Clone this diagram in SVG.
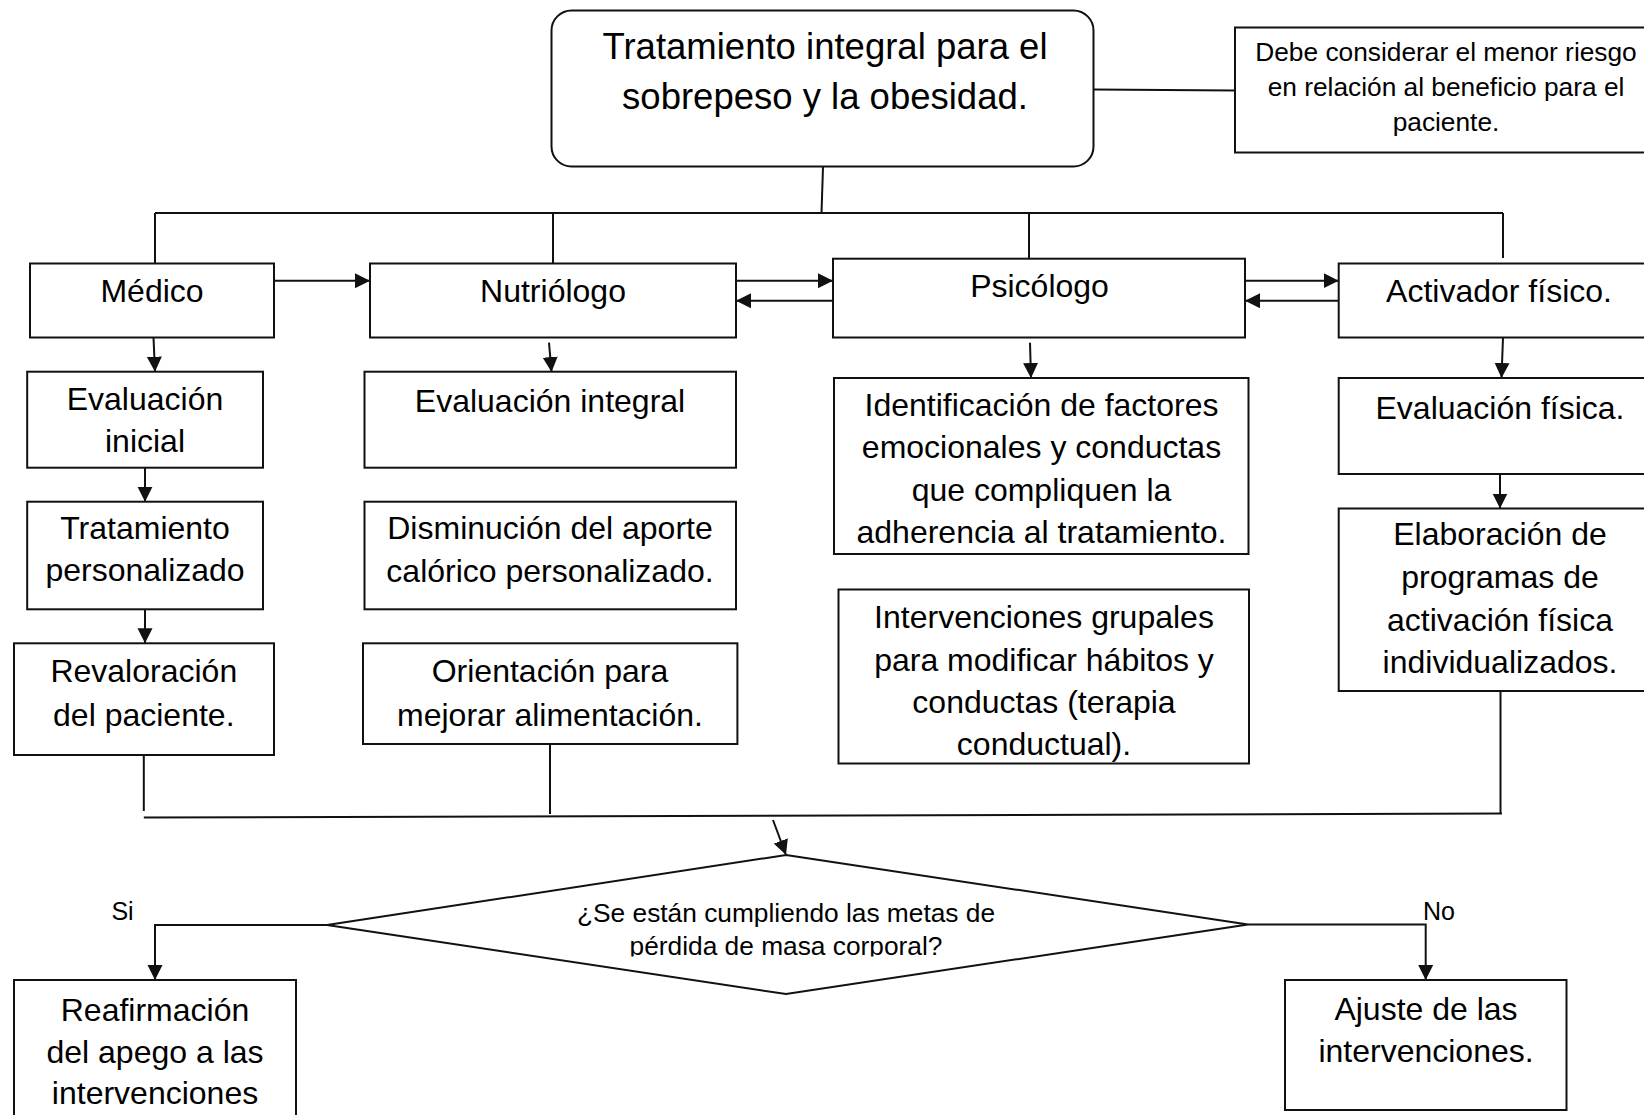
<svg xmlns="http://www.w3.org/2000/svg" width="1644" height="1115" viewBox="0 0 1644 1115">
<style>
  .box{fill:#fff;stroke:#111;stroke-width:2}
  .ln{fill:none;stroke:#111;stroke-width:2}
  .t{font-family:"Liberation Sans",Arial,sans-serif;font-size:32px;fill:#000;text-anchor:middle}
  .title{font-size:36.5px}
  .sm{font-size:26.3px}
  .lbl{font-size:25px}
</style>
<defs>
  <marker id="ah" markerUnits="userSpaceOnUse" markerWidth="16" markerHeight="16" viewBox="0 0 16 16" refX="15" refY="8" orient="auto">
    <path d="M0,0.5 L15,8 L0,15.5 z" fill="#111"/>
  </marker>
  <clipPath id="dclip"><rect x="0" y="0" width="1644" height="956.5"/></clipPath>
</defs>
<rect width="1644" height="1115" fill="#fff"/>

<g id="connectors">
  <path class="ln" d="M1093.5,89.5 L1235,90.5"/>
  <path class="ln" d="M823,167 L821.5,213"/>
  <path class="ln" d="M155,213 L1503,213"/>
  <path class="ln" d="M155,213 L155,263.5"/>
  <path class="ln" d="M553,213 L553,263.5"/>
  <path class="ln" d="M1029,213 L1029,258.7"/>
  <path class="ln" d="M1503,213 L1503,258"/>
  <path class="ln" d="M274,280.7 L370,280.7" marker-end="url(#ah)"/>
  <path class="ln" d="M736,280.7 L833,280.7" marker-end="url(#ah)"/>
  <path class="ln" d="M833,300.7 L736,300.7" marker-end="url(#ah)"/>
  <path class="ln" d="M1245,280.7 L1338.7,280.7" marker-end="url(#ah)"/>
  <path class="ln" d="M1338.7,300.7 L1245,300.7" marker-end="url(#ah)"/>
  <path class="ln" d="M153.5,337.5 L155,371.7" marker-end="url(#ah)"/>
  <path class="ln" d="M145,467.7 L145,501.7" marker-end="url(#ah)"/>
  <path class="ln" d="M145,609.3 L145,643.3" marker-end="url(#ah)"/>
  <path class="ln" d="M549,342.7 L551.5,372" marker-end="url(#ah)"/>
  <path class="ln" d="M1030,342.7 L1031,378" marker-end="url(#ah)"/>
  <path class="ln" d="M1503,337.5 L1501.5,378" marker-end="url(#ah)"/>
  <path class="ln" d="M1500,474 L1500,508.5" marker-end="url(#ah)"/>
  <path class="ln" d="M143.8,755 L143.8,811"/>
  <path class="ln" d="M550,744 L550,814"/>
  <path class="ln" d="M1500.5,691 L1500.5,813.5"/>
  <path class="ln" d="M143.8,817.5 L1502,813.5"/>
  <path class="ln" d="M773,820 L786,855" marker-end="url(#ah)"/>
  <path class="ln" d="M327,925 L155,925 L155,980" marker-end="url(#ah)"/>
  <path class="ln" d="M1248,924.5 L1425.7,924.5 L1425.7,980" marker-end="url(#ah)"/>
  <text class="t lbl" x="122.5" y="920">Si</text>
  <text class="t lbl" x="1439" y="920">No</text>
</g>

<g id="titulo">
  <rect class="box" x="551.5" y="10.5" width="542" height="156" rx="20"/>
  <text class="t title" x="825" y="58.5">Tratamiento integral para el</text>
  <text class="t title" x="825" y="108.5">sobrepeso y la obesidad.</text>
</g>

<g id="nota">
  <rect class="box" x="1235" y="27.5" width="425" height="125"/>
  <text class="t sm" x="1446" y="61">Debe considerar el menor riesgo</text>
  <text class="t sm" x="1446" y="96">en relación al beneficio para el</text>
  <text class="t sm" x="1446" y="131">paciente.</text>
</g>

<g id="medico">
  <rect class="box" x="30" y="263.5" width="244" height="74"/>
  <text class="t" x="152" y="302">Médico</text>
</g>

<g id="nutriologo">
  <rect class="box" x="370" y="263.5" width="366" height="74"/>
  <text class="t" x="553" y="302">Nutriólogo</text>
</g>

<g id="psicologo">
  <rect class="box" x="833" y="258.7" width="412" height="78.8"/>
  <text class="t" x="1039.5" y="297">Psicólogo</text>
</g>

<g id="activador">
  <rect class="box" x="1338.7" y="263.5" width="330" height="74"/>
  <text class="t" x="1499" y="302">Activador físico.</text>
</g>

<g id="evaluacion-inicial">
  <rect class="box" x="27.2" y="371.7" width="235.8" height="96"/>
  <text class="t" x="145" y="410">Evaluación</text>
  <text class="t" x="145" y="452">inicial</text>
</g>

<g id="tratamiento-personalizado">
  <rect class="box" x="27.2" y="501.7" width="235.8" height="107.6"/>
  <text class="t" x="145" y="538.5">Tratamiento</text>
  <text class="t" x="145" y="581">personalizado</text>
</g>

<g id="revaloracion">
  <rect class="box" x="14" y="643.3" width="260" height="111.7"/>
  <text class="t" x="143.8" y="682">Revaloración</text>
  <text class="t" x="143.8" y="725.5">del paciente.</text>
</g>

<g id="evaluacion-integral">
  <rect class="box" x="364.5" y="371.7" width="371.5" height="96"/>
  <text class="t" x="550" y="412">Evaluación integral</text>
</g>

<g id="disminucion">
  <rect class="box" x="364.5" y="501.7" width="371.5" height="107.6"/>
  <text class="t" x="550" y="539">Disminución del aporte</text>
  <text class="t" x="550" y="581.5">calórico personalizado.</text>
</g>

<g id="orientacion">
  <rect class="box" x="363" y="643.3" width="374.4" height="100.7"/>
  <text class="t" x="550" y="682">Orientación para</text>
  <text class="t" x="550" y="725.5">mejorar alimentación.</text>
</g>

<g id="identificacion">
  <rect class="box" x="834" y="378" width="414.5" height="176"/>
  <text class="t" x="1041.5" y="415.5">Identificación de factores</text>
  <text class="t" x="1041.5" y="458">emocionales y conductas</text>
  <text class="t" x="1041.5" y="500.5">que compliquen la</text>
  <text class="t" x="1041.5" y="543">adherencia al tratamiento.</text>
</g>

<g id="intervenciones-grupales">
  <rect class="box" x="838.5" y="589.5" width="410.5" height="174"/>
  <text class="t" x="1044" y="628">Intervenciones grupales</text>
  <text class="t" x="1044" y="670.5">para modificar hábitos y</text>
  <text class="t" x="1044" y="712.5">conductas (terapia</text>
  <text class="t" x="1044" y="754.5">conductual).</text>
</g>

<g id="evaluacion-fisica">
  <rect class="box" x="1338.7" y="378" width="330" height="96"/>
  <text class="t" x="1500" y="418.5">Evaluación física.</text>
</g>

<g id="elaboracion">
  <rect class="box" x="1338.7" y="508.5" width="330" height="182.5"/>
  <text class="t" x="1500" y="545">Elaboración de</text>
  <text class="t" x="1500" y="588">programas de</text>
  <text class="t" x="1500" y="630.5">activación física</text>
  <text class="t" x="1500" y="672.5">individualizados.</text>
</g>

<g id="decision">
  <polygon class="box" points="786,855 1248,924.5 786,994 327,925"/>
  <text class="t sm" x="786" y="921.5">¿Se están cumpliendo las metas de</text>
  <text class="t sm" x="786" y="955" clip-path="url(#dclip)">pérdida de masa corporal?</text>
</g>

<g id="reafirmacion">
  <rect class="box" x="14" y="980" width="282" height="150"/>
  <text class="t" x="155" y="1021">Reafirmación</text>
  <text class="t" x="155" y="1062.5">del apego a las</text>
  <text class="t" x="155" y="1104">intervenciones</text>
</g>

<g id="ajuste">
  <rect class="box" x="1285" y="980" width="281.5" height="130"/>
  <text class="t" x="1426" y="1020">Ajuste de las</text>
  <text class="t" x="1426" y="1061.5">intervenciones.</text>
</g>
</svg>
